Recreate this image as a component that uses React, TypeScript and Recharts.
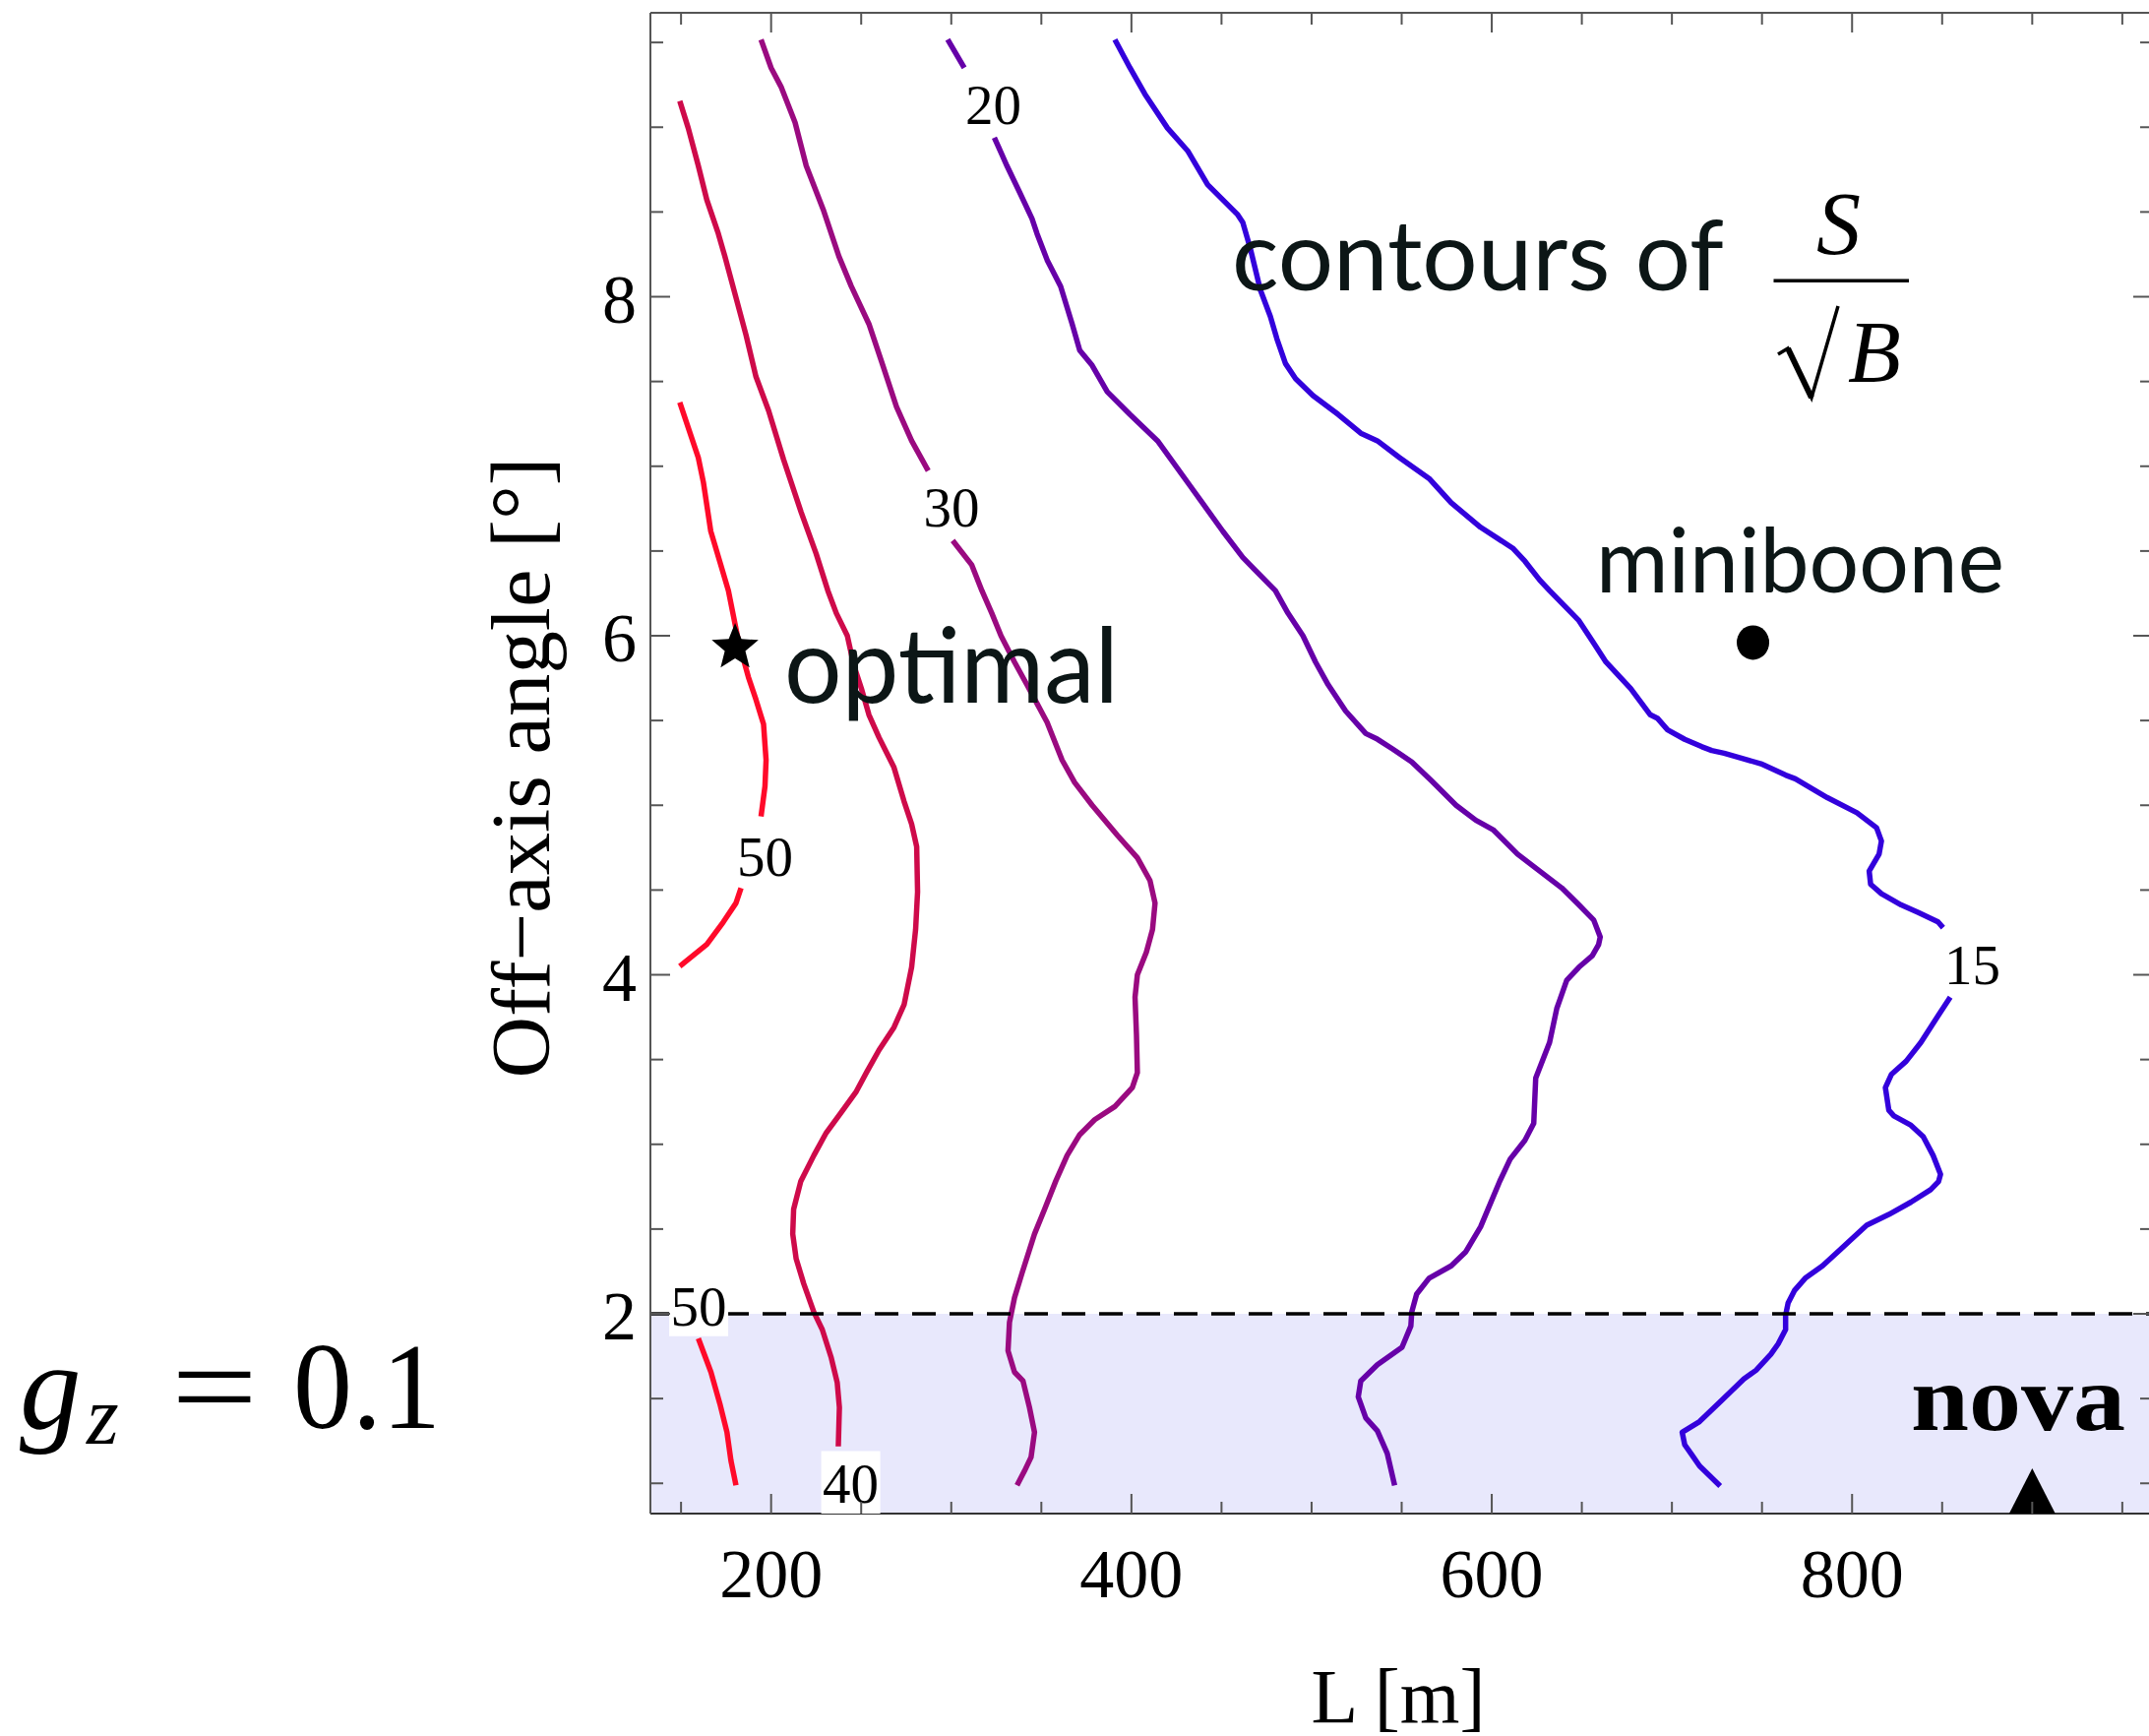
import React from "react";
import {
  ComposedChart,
  Line,
  Scatter,
  XAxis,
  YAxis,
  ReferenceArea,
  ReferenceLine,
} from "recharts";

// contour lines of S/sqrt(B): [L (m), off-axis angle (deg)], null = gap under a label
const contour50Upper = [
  [149.3, 7.377], [159.6, 7.05], [162.4, 6.906], [166.5, 6.617], [172.1, 6.417],
  [176.3, 6.266], [181.9, 5.967], [187.4, 5.756], [191.6, 5.623], [195.8, 5.478],
  [197.2, 5.267], [196.6, 5.112], [194.4, 4.934], [189, 4.72, null], [183.3, 4.512],
  [180.5, 4.423], [173.5, 4.312], [164.3, 4.179], [149.3, 4.05],
];
const contour50Lower = [
  [159.6, 1.855], [166.6, 1.656], [171.6, 1.468], [175.5, 1.301], [177.7, 1.134], [180.5, 0.988],
];
const contour40 = [
  [149.3, 9.155], [154, 8.995], [159.6, 8.772], [164.3, 8.572], [170.7, 8.372], [174.3, 8.239],
  [180.5, 7.995], [186.1, 7.773], [191.6, 7.528], [198.6, 7.328], [206.9, 7.04], [216.7, 6.728],
  [225, 6.484], [231.5, 6.266], [236.2, 6.133], [242.3, 6.0], [246, 5.822], [250.1, 5.689],
  [254.3, 5.534], [259.9, 5.4], [268.2, 5.223], [273.8, 5.023], [278, 4.889], [280.8, 4.756],
  [281.3, 4.49], [280.2, 4.267], [278, 4.045], [273.8, 3.823], [268.2, 3.69], [259.9, 3.556],
  [252.9, 3.423], [247.3, 3.312], [239, 3.19], [230.6, 3.068], [223.7, 2.934], [216.5, 2.783],
  [212.5, 2.617], [212, 2.471], [213.9, 2.325], [218.1, 2.178], [223.7, 2.011], [228.4, 1.907],
  [233.4, 1.74], [236.7, 1.594], [237.9, 1.448], [237.3, 1.218],
];
const contour30 = [
  [194.4, 9.517], [200, 9.35], [205.5, 9.239], [213.3, 9.028], [219.5, 8.772], [229.2, 8.506],
  [237.6, 8.239], [244.5, 8.062], [254.3, 7.839], [261.3, 7.617], [269.6, 7.35], [278, 7.15],
  [287.2, 6.973], [294, 6.77, null], [300.8, 6.562], [311.4, 6.417], [317, 6.266], [322.5, 6.133],
  [327.6, 6.0], [335.1, 5.845], [342, 5.711], [347.6, 5.6], [353.2, 5.489], [361.5, 5.267],
  [368.5, 5.134], [378.2, 5.0], [392.2, 4.823], [403.3, 4.69], [410.3, 4.556], [413.1, 4.423],
  [411.7, 4.267], [408.3, 4.134], [403.3, 4.0], [402, 3.868], [402.8, 3.645], [403.3, 3.423],
  [400.5, 3.334], [390.8, 3.223], [379.6, 3.145], [371.3, 3.057], [364.3, 2.934], [358, 2.783],
  [351.8, 2.617], [346.2, 2.471], [339.3, 2.241], [335.1, 2.095], [332.3, 1.949], [331.5, 1.782],
  [335.1, 1.656], [339.8, 1.604], [343.4, 1.448], [346.2, 1.301], [344.3, 1.155], [340.6, 1.072],
  [336.5, 0.988],
];
const contour20 = [
  [298, 9.517], [307.2, 9.35], [315, 9.14, null], [323.9, 8.939], [330.9, 8.772], [337.9, 8.617],
  [344.8, 8.461], [347.6, 8.372], [353.2, 8.217], [360.7, 8.061], [367.1, 7.839], [371.3, 7.684],
  [378.2, 7.595], [386.6, 7.439], [399.1, 7.306], [414.5, 7.15], [432.6, 6.884], [450.7, 6.617],
  [461.8, 6.462], [479.9, 6.266], [486.9, 6.133], [495.2, 6.0], [502.2, 5.845], [509.2, 5.711],
  [518.9, 5.556], [530.1, 5.423], [536.5, 5.39], [544.7, 5.334], [555.6, 5.256], [566.5, 5.145],
  [580.2, 5.0], [591.1, 4.912], [600.7, 4.856], [614.3, 4.712], [626.6, 4.612], [638.9, 4.512],
  [648.4, 4.412], [656.6, 4.323], [660.2, 4.223], [659.3, 4.178], [655.8, 4.112], [648.4, 4.045],
  [641.6, 3.967], [636.1, 3.801], [632.1, 3.601], [624.4, 3.39], [623.3, 3.123], [618.4, 3.023],
  [610.2, 2.912], [604.5, 2.784], [593.8, 2.513], [585.6, 2.366], [577.5, 2.283], [565.2, 2.21],
  [558.3, 2.116], [555.6, 2.011], [555.1, 1.928], [550.2, 1.803], [536.5, 1.7], [527.3, 1.604],
  [525.9, 1.51], [530.1, 1.385], [536.5, 1.31], [542, 1.176], [546.1, 0.988],
];
const contour15 = [
  [390.8, 9.517], [399.2, 9.35], [407.5, 9.195], [420, 8.995], [431.2, 8.861], [442.3, 8.661],
  [459, 8.484], [461.8, 8.439], [466, 8.284], [471.6, 8.039], [477.1, 7.884], [480.8, 7.75],
  [485.5, 7.606], [491.1, 7.517], [500.8, 7.417], [514.7, 7.306], [527.3, 7.195], [536.5, 7.15],
  [548.8, 7.051], [565.2, 6.928], [577.5, 6.784], [593.8, 6.64], [611.6, 6.517], [618.4, 6.44],
  [626.6, 6.329], [632.1, 6.266], [648.4, 6.089], [656.6, 5.956], [663.4, 5.845], [677.1, 5.689],
  [688, 5.534], [692.1, 5.512], [697.6, 5.445], [707.1, 5.389], [716.7, 5.345], [722.1, 5.323],
  [729, 5.307], [738.5, 5.278], [749.4, 5.245], [763.1, 5.178], [768.5, 5.156], [786.3, 5.045],
  [802.7, 4.956], [813.6, 4.867], [816.3, 4.789], [815, 4.712], [809.5, 4.612], [810.3, 4.534],
  [816.3, 4.478], [827.3, 4.412], [836.8, 4.367], [847.7, 4.312], [850.5, 4.278], [852, 4.07, null],
  [854.5, 3.868], [847.7, 3.757], [838.2, 3.601], [830, 3.49], [821.8, 3.412], [818.5, 3.334],
  [820.4, 3.201], [823.2, 3.168], [832.7, 3.112], [839.5, 3.045], [845, 2.934], [849.1, 2.823],
  [848, 2.78], [843.6, 2.732], [832.7, 2.659], [820.4, 2.586], [808.1, 2.523], [798.6, 2.429],
  [783.6, 2.283], [774, 2.21], [768, 2.137], [764.5, 2.064], [763.1, 1.991], [763.1, 1.907],
  [759, 1.823], [754.9, 1.761], [746.7, 1.667], [739.9, 1.615], [727.6, 1.489], [715.3, 1.364],
  [705.7, 1.301], [707.1, 1.228], [711.2, 1.166], [715.3, 1.103], [726.8, 0.984],
];

const contourLabels = [
  { L: 323.3, a: 9.131, text: "20" },
  { L: 300.1, a: 6.756, text: "30" },
  { L: 196.6, a: 4.696, text: "50" },
  { L: 866.8, a: 4.056, text: "15" },
  { L: 159.8, a: 2.042, text: "50" },
  { L: 244.2, a: 0.993, text: "40" },
];

const optimalPoint = [{ L: 180, a: 5.93 }];
const minibooneDot = [{ L: 745, a: 5.96 }];
const novaPoint = [{ L: 900, a: 0.91 }];

const xTicks = [150, 200, 250, 300, 350, 400, 450, 500, 550, 600, 650, 700, 750, 800, 850, 900, 950];
const yTicks = [1, 1.5, 2, 2.5, 3, 3.5, 4, 4.5, 5, 5.5, 6, 6.5, 7, 7.5, 8, 8.5, 9, 9.5];
const xDomain = [133, 967];
const yDomain = [0.8215, 9.675];
const novaBand = 2;

const SERIF = "'Liberation Serif', 'Times New Roman', serif";
const SANS = "Lato, 'Noto Sans', sans-serif";
const FRAME = "#555";
const INK = "#0c1616";

const toRows = (rows: (number | null)[][]) =>
  rows.map((r) => ({ L: r[0] as number, a: r.length > 2 ? null : r[1] }));

const contours = [
  { key: "c50u", data: toRows(contour50Upper), color: "#FF0A2A" },
  { key: "c50l", data: toRows(contour50Lower), color: "#FF0A2A" },
  { key: "c40", data: toRows(contour40), color: "#CE0A4A" },
  { key: "c30", data: toRows(contour30), color: "#9A0A80" },
  { key: "c20", data: toRows(contour20), color: "#6600A8" },
  { key: "c15", data: toRows(contour15), color: "#3300DC" },
];

const isMajorX = (v: number) => v % 200 === 0;
const isMajorY = (v: number) => v % 2 === 0;

function BottomTick({ x, y, payload }: any) {
  const major = isMajorX(payload.value);
  return (
    <g>
      <line x1={x} y1={y} x2={x} y2={y - (major ? 20 : 12)} stroke={FRAME} strokeWidth={2} />
      {major && (
        <text x={x} y={y + 85} textAnchor="middle" fontFamily={SERIF} fontSize={70} fill="#000">
          {payload.value}
        </text>
      )}
    </g>
  );
}

function TopTick({ x, y, payload }: any) {
  const major = isMajorX(payload.value);
  return <line x1={x} y1={y} x2={x} y2={y + (major ? 20 : 12)} stroke={FRAME} strokeWidth={2} />;
}

function LeftTick({ x, y, payload }: any) {
  const major = isMajorY(payload.value);
  return (
    <g>
      <line x1={x} y1={y} x2={x + (major ? 20 : 13)} y2={y} stroke={FRAME} strokeWidth={2} />
      {major && (
        <text x={x - 14} y={y + 26} textAnchor="end" fontFamily={SERIF} fontSize={70} fill="#000">
          {payload.value}
        </text>
      )}
    </g>
  );
}

function RightTick({ x, y, payload }: any) {
  const major = isMajorY(payload.value);
  return <line x1={x} y1={y} x2={x - (major ? 20 : 13)} y2={y} stroke={FRAME} strokeWidth={2} />;
}

function LabelBox({ cx, cy, payload }: any) {
  return (
    <g>
      <rect x={cx - 30} y={cy - 34} width={60} height={64} fill="#fff" />
      <text x={cx} y={cy + 19} textAnchor="middle" fontFamily={SERIF} fontSize={57} fill="#000">
        {payload.text}
      </text>
    </g>
  );
}

function StarShape({ cx, cy }: any) {
  const R = 25;
  const r = 11;
  const pts: string[] = [];
  for (let i = 0; i < 10; i++) {
    const ang = -Math.PI / 2 + (i * Math.PI) / 5;
    const rad = i % 2 === 0 ? R : r;
    pts.push(`${cx + rad * Math.cos(ang)},${cy + rad * Math.sin(ang)}`);
  }
  return <polygon points={pts.join(" ")} fill="#000" />;
}

function DotShape({ cx, cy }: any) {
  return <ellipse cx={cx} cy={cy} rx={16.5} ry={17.5} fill="#000" />;
}

function TriangleShape({ cx, cy }: any) {
  return (
    <path
      d={`M${cx},${cy - 30.7} L${cx + 23.5},${cy + 15.3} L${cx - 23.5},${cy + 15.3} Z`}
      fill="#000"
    />
  );
}

export default function App() {
  return (
    <div
      style={{
        position: "absolute",
        left: 0,
        top: 0,
        width: 2184,
        height: 1764,
        overflow: "hidden",
        background: "#fff",
      }}
    >
      <ComposedChart
        width={2200}
        height={1764}
        margin={{ top: 12, right: 11, bottom: 166, left: 601 }}
      >
        <XAxis
          xAxisId={0}
          dataKey="L"
          type="number"
          domain={xDomain}
          allowDataOverflow
          ticks={xTicks}
          interval={0}
          height={60}
          tickSize={0}
          tickMargin={0}
          tickLine={false}
          axisLine={{ stroke: "#333", strokeWidth: 2 }}
          tick={<BottomTick />}
        />
        <XAxis
          xAxisId="top"
          orientation="top"
          dataKey="L"
          type="number"
          domain={xDomain}
          allowDataOverflow
          ticks={xTicks}
          interval={0}
          height={1}
          tickSize={0}
          tickMargin={0}
          tickLine={false}
          axisLine={{ stroke: FRAME, strokeWidth: 2 }}
          tick={<TopTick />}
        />
        <YAxis
          yAxisId={0}
          dataKey="a"
          type="number"
          domain={yDomain}
          allowDataOverflow
          ticks={yTicks}
          interval={0}
          width={60}
          tickSize={0}
          tickMargin={0}
          tickLine={false}
          axisLine={{ stroke: FRAME, strokeWidth: 2 }}
          tick={<LeftTick />}
        />
        <YAxis
          yAxisId="right"
          orientation="right"
          dataKey="a"
          type="number"
          domain={yDomain}
          allowDataOverflow
          ticks={yTicks}
          interval={0}
          width={1}
          tickSize={0}
          tickMargin={0}
          tickLine={false}
          axisLine={{ stroke: FRAME, strokeWidth: 2 }}
          tick={<RightTick />}
        />
        <ReferenceArea
          y1={yDomain[0]}
          y2={novaBand}
          fill="#E8E8FC"
          fillOpacity={1}
          stroke="none"
          ifOverflow="hidden"
        />
        {contours.map((c) => (
          <Line
            key={c.key}
            data={c.data}
            dataKey="a"
            stroke={c.color}
            strokeWidth={5.5}
            strokeLinejoin="round"
            dot={false}
            activeDot={false}
            isAnimationActive={false}
          />
        ))}
        <ReferenceLine y={novaBand} stroke="#000" strokeWidth={3.3} strokeDasharray="24 14" />
        <Scatter data={contourLabels} shape={<LabelBox />} isAnimationActive={false} />
        <Scatter data={optimalPoint} shape={<StarShape />} isAnimationActive={false} />
        <Scatter data={minibooneDot} shape={<DotShape />} isAnimationActive={false} />
        <Scatter data={novaPoint} shape={<TriangleShape />} isAnimationActive={false} />
      </ComposedChart>

      <svg
        width={2184}
        height={1764}
        style={{ position: "absolute", left: 0, top: 0, pointerEvents: "none" }}
      >
        <text
          transform="translate(558,780) rotate(-90)"
          textAnchor="middle"
          fontFamily={SERIF}
          fontSize={85}
          textLength={631}
          lengthAdjust="spacingAndGlyphs"
          fill="#000"
        >
          Off−axis angle [°]
        </text>
        <text x={1421} y={1750} textAnchor="middle" fontFamily={SERIF} fontSize={78} fill="#000">
          L [m]
        </text>

        <text x={1252} y={295} fontFamily={SANS} fontSize={98} textLength={500} lengthAdjust="spacingAndGlyphs" fill={INK}>
          contours of
        </text>
        <text x={1846} y={258} fontFamily={SERIF} fontStyle="italic" fontSize={90} fill="#000">
          S
        </text>
        <rect x={1802.5} y={283.5} width={137.5} height={3.5} fill="#000" />
        <path d="M1807,360 L1817,354 L1841,404 L1868,311" fill="none" stroke="#000" strokeWidth={3.5} strokeLinejoin="miter" />
        <path d="M1817,354 L1841,404" fill="none" stroke="#000" strokeWidth={6} />
        <text x={1878} y={386.5} fontFamily={SERIF} fontStyle="italic" fontSize={88} fill="#000">
          B
        </text>

        <text x={1622} y={602} fontFamily={SANS} fontSize={92} textLength={415} lengthAdjust="spacingAndGlyphs" fill={INK}>
          miniboone
        </text>
        <text x={797} y={714} fontFamily={SANS} fontSize={106} textLength={340} lengthAdjust="spacingAndGlyphs" fill={INK}>
          optimal
        </text>
        <text x={1942} y={1453} fontFamily={SERIF} fontWeight="bold" fontSize={96} textLength={218} lengthAdjust="spacingAndGlyphs" fill="#000">
          nova
        </text>

        <text x={20} y={1451} fontFamily={SERIF} fontStyle="italic" fontSize={125} fill="#000">
          g
        </text>
        <text x={88} y={1467} fontFamily={SERIF} fontStyle="italic" fontSize={84} fill="#000">
          z
        </text>
        <text x={174} y={1451} fontFamily={SERIF} fontSize={125} textLength={88} lengthAdjust="spacingAndGlyphs" fill="#000">
          =
        </text>
        <text x={298} y={1451} fontFamily={SERIF} fontSize={125} textLength={150} lengthAdjust="spacingAndGlyphs" fill="#000">
          0.1
        </text>
      </svg>
    </div>
  );
}
